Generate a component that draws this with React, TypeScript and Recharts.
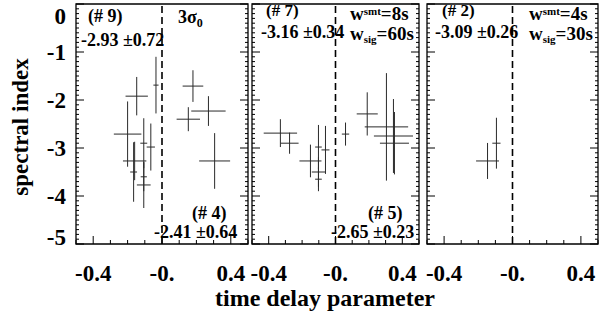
import React from 'react';
import { ScatterChart, Scatter, XAxis, YAxis, ErrorBar, ReferenceLine, ReferenceArea } from 'recharts';

const W = 600;
const H = 311;
const PLOT_TOP = 4;
const PLOT_BOTTOM = 244;
const X_AXIS_H = 30;
const Y_AXIS_W = 60;
const FONT = "'Liberation Serif', 'Times New Roman', serif";

// panel 1 (#9 / #4)
const p1X = [-0.147, -0.035, -0.2, -0.159, -0.165, -0.106, -0.106, -0.106, -0.065, 0.18, 0.153, 0.27, 0.306];
const p1Y = [-1.92, -1.69, -2.71, -3.27, -3.5, -2.9, -3.6, -3.77, -2.98, -1.71, -2.4, -2.23, -3.27];
const p1XErr = [0.065, 0.015, 0.08, 0.068, 0.02, 0.02, 0.018, 0.04, 0.024, 0.06, 0.068, 0.1, 0.09];
const p1YErr = [0.4, 0.59, 0.68, 0.4, 0.62, 0.52, 0.3, 0.48, 0.49, 0.33, 0.25, 0.31, 0.58];

// panel 2 (#7 / #5)
const p2X = [-0.33, -0.275, -0.15, -0.102, -0.102, -0.102, -0.06, 0.06, 0.19, 0.305, 0.347, 0.353];
const p2Y = [-2.69, -2.9, -3.27, -2.98, -3.5, -3.65, -3.04, -2.71, -2.29, -2.56, -2.75, -2.9];
const p2XErr = [0.1, 0.054, 0.066, 0.02, 0.04, 0.02, 0.024, 0.022, 0.063, 0.13, 0.117, 0.087];
const p2YErr = [0.29, 0.22, 0.34, 0.46, 0.31, 0.25, 0.5, 0.24, 0.45, 1.12, 0.77, 0.65];

// panel 3 (#2)
const p3X = [-0.146, -0.094];
const p3Y = [-3.27, -2.9];
const p3XErr = [0.067, 0.024];
const p3YErr = [0.375, 0.53];

const xMajorTicks = [-0.4, 0, 0.4];
const xTickLabels = ['-0.4', '-0.', '0.4'];
const yMajorTicks = [0, -1, -2, -3, -4, -5];

// minor tick positions (0.1 steps)
const xTicks = Array.from({ length: 11 }, (_, i) => Math.round((-0.5 + i * 0.1) * 10) / 10);
const yTicks = Array.from({ length: 51 }, (_, i) => Math.round((-5 + i * 0.1) * 10) / 10);

const toRows = (xs: number[], ys: number[], xe: number[], ye: number[]) =>
  xs.map((x, i) => ({ x, y: ys[i], xe: xe[i], ye: ye[i] }));

interface PanelProps {
  left: number;
  right: number;
  rows: { x: number; y: number; xe: number; ye: number }[];
  yLabels?: boolean;
}

const Panel: React.FC<PanelProps> = ({ left, right, rows, yLabels }) => {
  const renderXTick = (props: any) => {
    const { x, payload } = props;
    const v = payload.value;
    const idx = xMajorTicks.findIndex((t) => Math.abs(t - v) < 1e-6);
    const len = idx >= 0 ? 8 : 4;
    return (
      <g>
        <line x1={x} x2={x} y1={PLOT_BOTTOM} y2={PLOT_BOTTOM - len} stroke="#000" strokeWidth={1} />
        {idx >= 0 && (
          <text x={x} y={281} textAnchor="middle" fontFamily={FONT} fontWeight="bold" fontSize={23} fill="#000">
            {xTickLabels[idx]}
          </text>
        )}
      </g>
    );
  };

  const renderYTick = (props: any) => {
    const { y, payload } = props;
    const v = payload.value;
    const major = yMajorTicks.includes(v);
    const len = major ? 8 : 3;
    let ty = y + 8;
    if (v === 0) ty = y + 20;
    if (v === -5) ty = y + 1;
    return (
      <g>
        <line x1={left} x2={left + len} y1={y} y2={y} stroke="#000" strokeWidth={1} />
        <line x1={right} x2={right - len} y1={y} y2={y} stroke="#000" strokeWidth={1} />
        {yLabels && major && (
          <text x={66} y={ty} textAnchor="end" fontFamily={FONT} fontWeight="bold" fontSize={23} fill="#000">
            {String(v)}
          </text>
        )}
      </g>
    );
  };

  return (
    <div style={{ position: 'absolute', left: 0, top: 0 }}>
      <ScatterChart
        width={W}
        height={H}
        margin={{ top: PLOT_TOP, bottom: H - PLOT_BOTTOM - X_AXIS_H, left: left - Y_AXIS_W, right: W - right }}
      >
        <XAxis
          type="number"
          dataKey="x"
          domain={[-0.5, 0.5]}
          ticks={xTicks}
          interval={0}
          tick={renderXTick}
          tickLine={false}
          axisLine={false}
          height={X_AXIS_H}
          allowDataOverflow
        />
        <YAxis
          type="number"
          dataKey="y"
          domain={[-5, 0]}
          ticks={yTicks}
          interval={0}
          tick={renderYTick}
          tickLine={false}
          axisLine={false}
          width={Y_AXIS_W}
          allowDataOverflow
        />
        <ReferenceArea x1={-0.5} x2={0.5} y1={-5} y2={0} fill="none" fillOpacity={0} stroke="#000" strokeWidth={1.3} />
        <ReferenceLine x={0} stroke="#000" strokeWidth={1.6} strokeDasharray="7 4" />
        <Scatter data={rows} isAnimationActive={false} shape={() => <g />}>
          <ErrorBar dataKey="xe" direction="x" width={0} stroke="#2a2a2a" strokeWidth={1} isAnimationActive={false} />
          <ErrorBar dataKey="ye" direction="y" width={0} stroke="#2a2a2a" strokeWidth={1} isAnimationActive={false} />
        </Scatter>
      </ScatterChart>
    </div>
  );
};

const Txt: React.FC<{ x: number; y: number; size?: number; children: React.ReactNode }> = ({ x, y, size = 18, children }) => (
  <div
    style={{
      position: 'absolute',
      left: x,
      top: y,
      fontFamily: FONT,
      fontWeight: 'bold',
      fontSize: size,
      lineHeight: 1,
      whiteSpace: 'nowrap',
      color: '#000',
    }}
  >
    {children}
  </div>
);

const supStyle: React.CSSProperties = { fontSize: 11, position: 'relative', top: -5 };
const subStyle: React.CSSProperties = { fontSize: 11, position: 'relative', top: 3 };

export default function App() {
  return (
    <div style={{ position: 'absolute', left: 0, top: 0, width: W, height: H, background: '#fff', overflow: 'hidden' }}>
      <Panel left={76} right={248} rows={toRows(p1X, p1Y, p1XErr, p1YErr)} yLabels />
      <Panel left={252} right={419} rows={toRows(p2X, p2Y, p2XErr, p2YErr)} />
      <Panel left={427} right={598} rows={toRows(p3X, p3Y, p3XErr, p3YErr)} />

      {/* panel 1 annotations */}
      <Txt x={88} y={7}>(# 9)</Txt>
      <Txt x={81} y={31}>-2.93 ±0.72</Txt>
      <Txt x={178} y={8}>3σ<span style={{ fontSize: 12, position: 'relative', top: 4 }}>0</span></Txt>
      <Txt x={192} y={204}>(# 4)</Txt>
      <Txt x={154} y={223}>-2.41 ±0.64</Txt>

      {/* panel 2 annotations */}
      <Txt x={266} y={2} size={17}>(# 7)</Txt>
      <Txt x={261} y={23}>-3.16 ±0.34</Txt>
      <Txt x={350} y={4} size={19}>w<span style={supStyle}>smt</span>=8s</Txt>
      <Txt x={350} y={24} size={19}>w<span style={subStyle}>sig</span>=60s</Txt>
      <Txt x={368} y={204}>(# 5)</Txt>
      <Txt x={331} y={223}>-2.65 ±0.23</Txt>

      {/* panel 3 annotations */}
      <Txt x={442} y={2} size={17}>(# 2)</Txt>
      <Txt x={435} y={23}>-3.09 ±0.26</Txt>
      <Txt x={529} y={4} size={19}>w<span style={supStyle}>smt</span>=4s</Txt>
      <Txt x={529} y={24} size={19}>w<span style={subStyle}>sig</span>=30s</Txt>

      {/* axis titles */}
      <div
        style={{
          position: 'absolute',
          left: 20,
          top: 127,
          transform: 'translate(-50%, -50%) rotate(-90deg)',
          fontFamily: FONT,
          fontWeight: 'bold',
          fontSize: 23,
          whiteSpace: 'nowrap',
          lineHeight: 1,
        }}
      >
        spectral index
      </div>
      <div
        style={{
          position: 'absolute',
          left: 325,
          top: 286,
          transform: 'translateX(-50%)',
          fontFamily: FONT,
          fontWeight: 'bold',
          fontSize: 24,
          whiteSpace: 'nowrap',
          lineHeight: 1,
        }}
      >
        time delay parameter
      </div>
    </div>
  );
}
